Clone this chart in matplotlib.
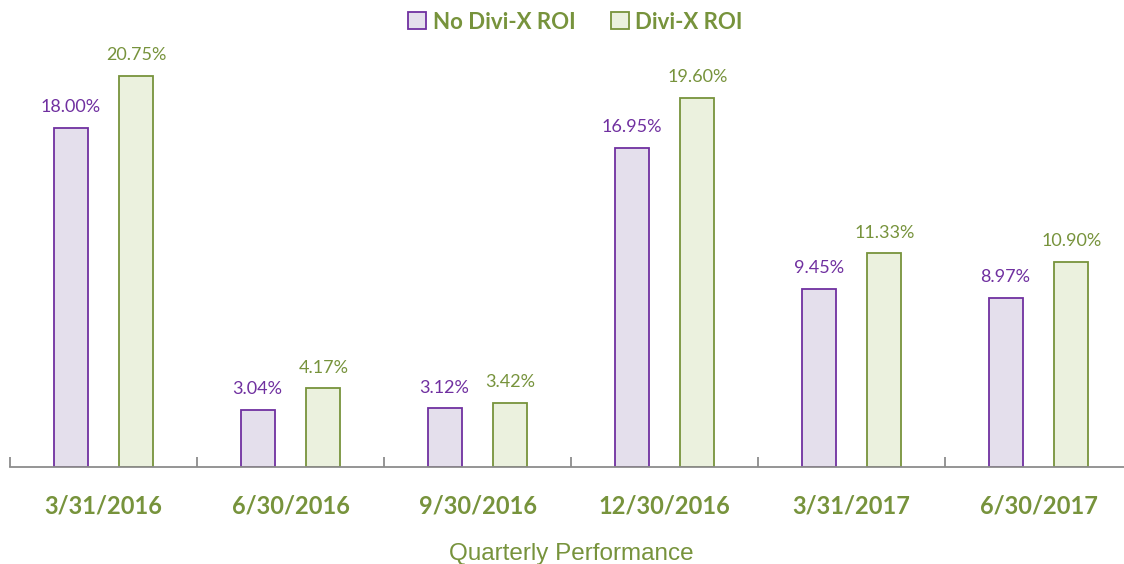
import matplotlib.pyplot as plt
import numpy as np

# Data
quarters = ['3/31/2016', '6/30/2016', '9/30/2016', '12/30/2016', '3/31/2017', '6/30/2017']
no_divix_roi = [18.00, 3.04, 3.12, 16.95, 9.45, 8.97]
divix_roi = [20.75, 4.17, 3.42, 19.60, 11.33, 10.90]

purple = '#7030A0'
purple_fill = '#E4DFEC'
green = '#77933C'
green_fill = '#EBF1DE'

x = np.arange(len(quarters))
width = 0.182
offset = 0.176

fig = plt.figure(figsize=(11.24, 5.64), dpi=100)
ax = fig.add_axes([10 / 1124, 97 / 564, 1122 / 1124, 424 / 564])

bars1 = ax.bar(x - offset, no_divix_roi, width, color=purple_fill, edgecolor=purple,
               linewidth=1.3, label='No Divi-X ROI')
bars2 = ax.bar(x + offset, divix_roi, width, color=green_fill, edgecolor=green,
               linewidth=1.3, label='Divi-X ROI')

for rects, col in ((bars1, purple), (bars2, green)):
    for rect in rects:
        h = rect.get_height()
        ax.annotate(f'{h:.2f}%', xy=(rect.get_x() + rect.get_width() / 2, h),
                    xytext=(0, 9), textcoords='offset points',
                    ha='center', va='bottom', color=col, fontsize=13, family='Lato')

ax.set_xlim(-0.5, len(quarters) - 0.5)
ax.set_ylim(0, 22.5)

for s in ('top', 'right', 'left'):
    ax.spines[s].set_visible(False)
ax.spines['bottom'].set_color('#8C8C8C')
ax.spines['bottom'].set_linewidth(1.3)
ax.set_yticks([])

ax.set_xticks(x)
ax.set_xticklabels(quarters, fontsize=17, fontweight='bold', color=green, family='Lato')
ax.tick_params(axis='x', which='major', length=0, pad=20)
ax.set_xticks(np.arange(len(quarters) + 1) - 0.5, minor=True)
ax.tick_params(axis='x', which='minor', direction='in', length=7, width=1.3, color='#8C8C8C')

ax.set_xlabel('Quarterly Performance', fontsize=17.5, color=green,
              family=['Liberation Sans Narrow', 'Liberation Sans'], labelpad=18)

leg = fig.legend(handles=[bars1, bars2], loc='upper center', bbox_to_anchor=(0.512, 1.015),
                 ncol=2, frameon=False, handlelength=0.8, handleheight=0.8,
                 handletextpad=0.3, columnspacing=1.6,
                 prop={'family': 'Lato', 'weight': 'bold', 'size': 16})
for t in leg.get_texts():
    t.set_color(green)

plt.savefig('out.png', dpi=100)
